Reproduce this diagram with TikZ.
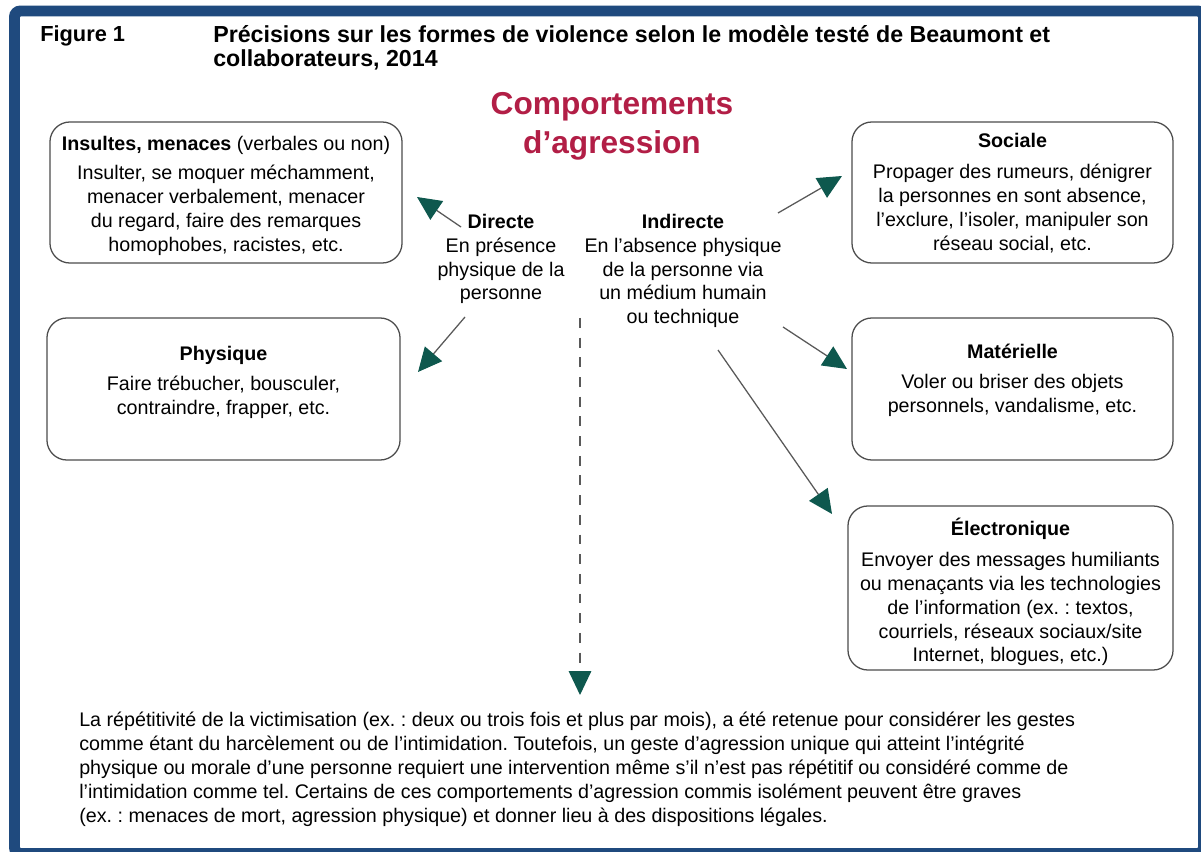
\documentclass[tikz,border=0pt]{standalone}
\usepackage{fontspec}
\setmainfont{Liberation Sans}
\usetikzlibrary{arrows.meta,positioning}
\definecolor{bleu}{RGB}{31,74,126}
\definecolor{vert}{RGB}{14,88,78}
\definecolor{rouge}{RGB}{178,30,70}
\tikzset{
  cadre/.style={draw=bleu,line width=7.8pt,rounded corners=0.15cm},
  boite/.style={draw=black!70,line width=0.9pt,rounded corners=0.5cm},
  texte/.style={align=center,inner sep=0pt,font=\fontsize{14}{17}\selectfont},
  fleche/.style={draw=black!65,line width=0.9pt,-{Triangle[length=17pt,width=16pt,color=vert]}},
  pointille/.style={fleche,dash pattern=on 7pt off 7pt}
}
\frenchspacing
\begin{document}
\begin{tikzpicture}[x=0.025cm,y=-0.025cm]
		\useasboundingbox (0,0) rectangle (1201,852);
		\clip (0,0) rectangle (1201,852);
		\fill[white] (0,0) rectangle (1201,852);
		\draw[cadre] (14.5,11) rectangle (1203.5,853.5);
		
		% en-tete
		\node[anchor=base west,inner sep=0pt,font=\bfseries\fontsize{15.5}{18}\selectfont] (fig) at (40,42) {Figure 1};
		\node[anchor=base west,inner sep=0pt,align=left,font=\bfseries\fontsize{16.5}{17.7}\selectfont] (titre) at (213,67)
			{Précisions sur les formes de violence selon le modèle testé de Beaumont et\\collaborateurs, 2014};
		\node[align=center,inner sep=0pt,text=rouge,font=\bfseries\fontsize{22.5}{27.5}\selectfont] (comp) at (612,126)
			{Comportements\\d’agression};
		
		% boites de gauche
		\node[boite,minimum width=8.8cm,minimum height=3.525cm] (ins) at (226,192.5) {};
		\node[texte] (insT) at (226,196) {\textbf{Insultes, menaces} (verbales ou non)\\[4pt]
			Insulter, se moquer méchamment,\\menacer verbalement, menacer\\du regard, faire des remarques\\homophobes, racistes, etc.};
		\node[boite,minimum width=8.825cm,minimum height=3.55cm] (phys) at (223.5,389) {};
		\node[texte] (physT) at (223.5,382.5) {\textbf{Physique}\\[4pt]
			Faire trébucher, bousculer,\\contraindre, frapper, etc.};
		
		% boites de droite
		\node[boite,minimum width=8.025cm,minimum height=3.525cm] (soc) at (1012.5,192.5) {};
		\node[texte] (socT) at (1012.5,193) {\textbf{Sociale}\\[5pt]
			Propager des rumeurs, dénigrer\\la personnes en sont absence,\\l’exclure, l’isoler, manipuler son\\réseau social, etc.};
		\node[boite,minimum width=8.025cm,minimum height=3.55cm] (mat) at (1012.5,389) {};
		\node[texte] (matT) at (1012.5,380.5) {\textbf{Matérielle}\\[4pt]
			Voler ou briser des objets\\personnels, vandalisme, etc.};
		\node[boite,minimum width=8.125cm,minimum height=4.1cm] (elec) at (1010.5,588) {};
		\node[texte] (elecT) at (1010.5,592) {\textbf{Électronique}\\[5pt]
			Envoyer des messages humiliants\\ou menaçants via les technologies\\de l’information (ex. : textos,\\courriels, réseaux sociaux/site\\Internet, blogues, etc.)};
		
		% directe / indirecte
		\node[texte] (dir) at (501,259) {\textbf{Directe}\\En présence\\physique de la\\personne};
		\node[texte] (ind) at (683,271) {\textbf{Indirecte}\\En l’absence physique\\de la personne via\\un médium humain\\ou technique};
		
		\coordinate (d1) at (461,227); \coordinate (d1b) at (417,197);
		\coordinate (d2) at (465,317); \coordinate (d2b) at (418,372);
		\coordinate (i1) at (778,213); \coordinate (i1b) at (842,176);
		\coordinate (i2) at (783,327); \coordinate (i2b) at (847,369);
		\coordinate (i3) at (718,350); \coordinate (i3b) at (832,514);
		\coordinate (r1) at (580,318); \coordinate (r1b) at (580,695);
		
		\draw[fleche] (d1) -- (d1b);
		\draw[fleche] (d2) -- (d2b);
		\draw[fleche] (i1) -- (i1b);
		\draw[fleche] (i2) -- (i2b);
		\draw[fleche] (i3) -- (i3b);
		\draw[pointille] (r1) -- (r1b);
		
		% texte du bas
		\node[anchor=north west,inner sep=0pt,align=left,font=\fontsize{14}{17}\selectfont] (note) at (79,712)
			{La répétitivité de la victimisation (ex. : deux ou trois fois et plus par mois), a été retenue pour considérer les gestes\\
			comme étant du harcèlement ou de l’intimidation. Toutefois, un geste d’agression unique qui atteint l’intégrité\\
			physique ou morale d’une personne requiert une intervention même s’il n’est pas répétitif ou considéré comme de\\
			l’intimidation comme tel. Certains de ces comportements d’agression commis isolément peuvent être graves\\
			(ex. : menaces de mort, agression physique) et donner lieu à des dispositions légales.};
\end{tikzpicture}
\end{document}
